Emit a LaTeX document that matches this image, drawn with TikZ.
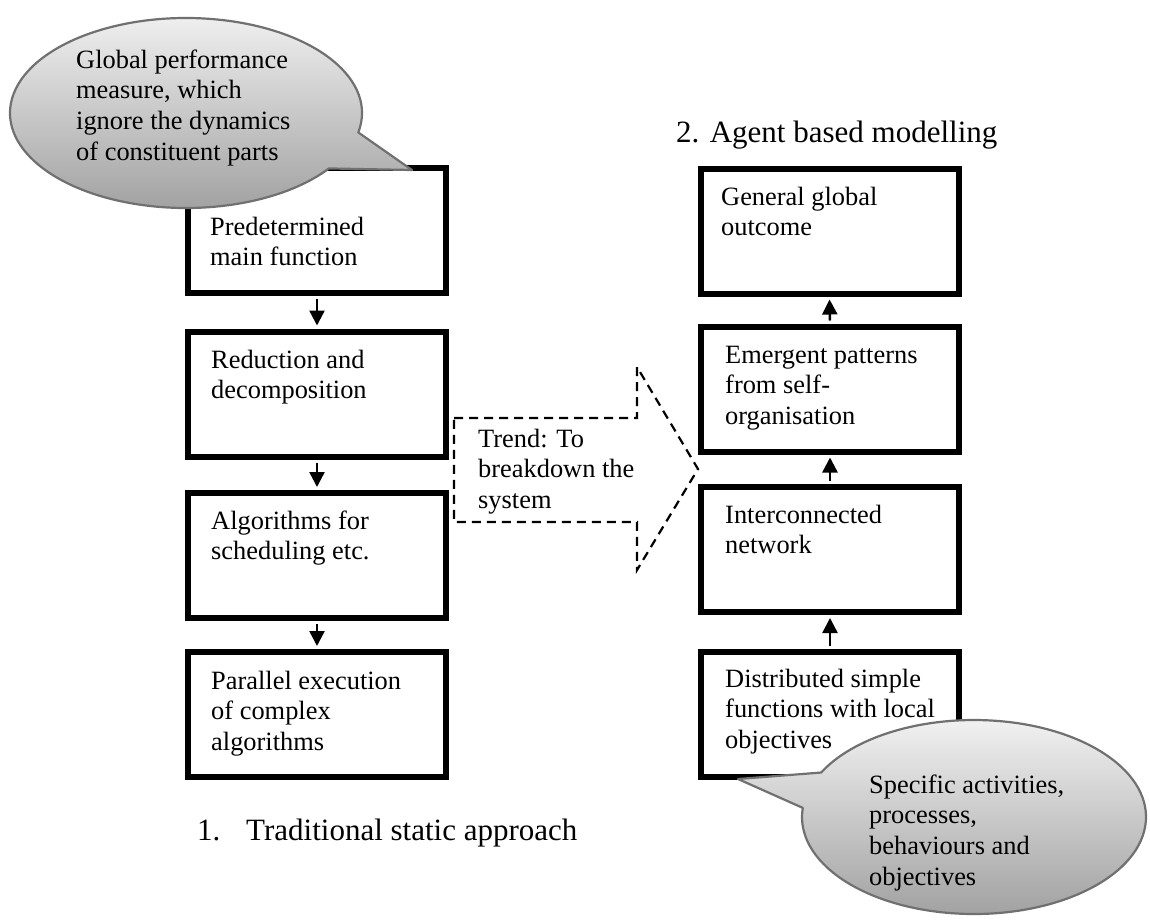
\documentclass[tikz,border=0pt]{standalone}
\usepackage{fontspec}
\setmainfont{Liberation Serif}
\usetikzlibrary{arrows.meta,calc}
\definecolor{bubbletop}{RGB}{242,242,242}
\definecolor{bubblebottom}{RGB}{160,160,160}
\definecolor{bubbleline}{RGB}{112,112,112}
\begin{document}
\begin{tikzpicture}[x=1pt,y=-1pt,
  stepbox/.style={draw=black, line width=6pt, minimum width=258pt, minimum height=125pt, inner sep=0pt},
  boxtext/.style={anchor=base west, inner sep=0pt, font=\fontsize{26.4pt}{30.8pt}\selectfont},
  heading/.style={anchor=base west, inner sep=0pt, font=\fontsize{31pt}{36pt}\selectfont},
  flow/.style={line width=2.4pt, -{Triangle[width=15pt,length=15pt]}, shorten >=3pt, shorten <=3pt},
  bubble/.style={draw=bubbleline, line width=2.2pt, line join=round, top color=bubbletop, bottom color=bubblebottom},
  bubbleshadow/.style={fill=black, draw=none},
  trend/.style={draw=black, line width=2.2pt, dash pattern=on 9pt off 6pt, line join=miter}
]
\useasboundingbox (0,0) rectangle (1150,919);

% ---- column 1: traditional static approach ----
\node[stepbox] (l1) at (317,230)   {};
\node[stepbox] (l2) at (317,394)   {};
\node[stepbox] (l3) at (317,555.5) {};
\node[stepbox] (l4) at (317,714.5) {};
\draw[flow] (l1.south) -- (l2.north);
\draw[flow] (l2.south) -- (l3.north);
\draw[flow] (l3.south) -- (l4.north);

\node[boxtext] (l1t) at (210,235) {\parbox[t]{300pt}{Predetermined\\main function}};
\node[boxtext] (l2t) at (211,368) {\parbox[t]{300pt}{Reduction and\\decomposition}};
\node[boxtext] (l3t) at (211,529) {\parbox[t]{300pt}{Algorithms for\\scheduling etc.}};
\node[boxtext] (l4t) at (211,689) {\parbox[t]{300pt}{Parallel execution\\of complex\\algorithms}};

\node[heading] (h1) at (197,840) {\makebox[49pt][l]{1.}Traditional static approach};

% ---- column 2: agent based modelling ----
\node[heading] (h2) at (676,142) {2. Agent based modelling};

\node[stepbox] (r1) at (829.5,231)   {};
\node[stepbox] (r2) at (830,389)     {};
\node[stepbox] (r3) at (830,549.5)   {};
\node[stepbox] (r4) at (830,714)     {};
\draw[flow] (r2.north) -- (r1.south);
\draw[flow] (r3.north) -- (r2.south);
\draw[flow] (r4.north) -- (r3.south);

\node[boxtext] (r1t) at (721,205) {\parbox[t]{300pt}{General global\\outcome}};
\node[boxtext] (r2t) at (725,363) {\parbox[t]{300pt}{Emergent patterns\\from self-\\organisation}};
\node[boxtext] (r3t) at (725,523) {\parbox[t]{300pt}{Interconnected\\network}};
\node[boxtext] (r4t) at (725,687) {\parbox[t]{300pt}{Distributed simple\\functions with local\\objectives}};

% ---- dashed block arrow between the columns ----
\draw[trend] (454,418) -- (637,418) -- (637,367) -- (698,469) -- (637,570)
             -- (637,522) -- (454,522) -- cycle;
\node[boxtext] (trendt) at (478,447) {\parbox[t]{200pt}{Trend: To\\breakdown the\\system}};

% ---- callout on the main function ----
\coordinate (c1) at (186,113);
\coordinate (c1a) at ($(c1)+(11.8:176 and 95)$);
\coordinate (c1b) at ($(c1)+(35.7:176 and 95)$);
\coordinate (tip1) at (412,170);
\foreach \dx/\dy/\op in {6/7/0.10, 4/5/0.18, 2.5/3/0.22} {
  \fill[bubbleshadow, opacity=\op, shift={(\dx,\dy)}] (c1b) -- (tip1) -- (c1a)
    arc[start angle=11.8, end angle=-324.3, x radius=176, y radius=95] -- cycle;
}
\draw[bubble] (c1b) -- (tip1) -- (c1a)
  arc[start angle=11.8, end angle=-324.3, x radius=176, y radius=95] -- cycle;
\node[boxtext] (c1t) at (76,68) {\parbox[t]{300pt}{Global performance\\measure, which\\ignore the dynamics\\of constituent parts}};

% ---- callout on the local functions ----
\coordinate (c2) at (974,817);
\coordinate (c2a) at ($(c2)+(207.3:172 and 97)$);
\coordinate (c2b) at ($(c2)+(185.4:172 and 97)$);
\coordinate (tip2) at (738,779);
\foreach \dx/\dy/\op in {6/7/0.10, 4/5/0.18, 2.5/3/0.22} {
  \fill[bubbleshadow, opacity=\op, shift={(\dx,\dy)}] (c2a) -- (tip2) -- (c2b)
    arc[start angle=185.4, end angle=-152.7, x radius=172, y radius=97] -- cycle;
}
\draw[bubble] (c2a) -- (tip2) -- (c2b)
  arc[start angle=185.4, end angle=-152.7, x radius=172, y radius=97] -- cycle;
\node[boxtext] (c2t) at (869,793) {\parbox[t]{300pt}{Specific activities,\\processes,\\behaviours and\\objectives}};
\end{tikzpicture}
\end{document}
